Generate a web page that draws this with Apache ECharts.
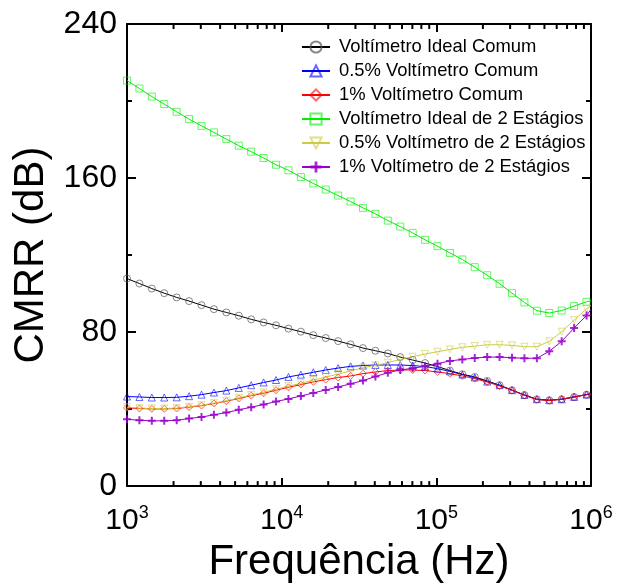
<!DOCTYPE html>
<html>
<head>
<meta charset="utf-8">
<script src="https://cdn.jsdelivr.net/npm/echarts@6/dist/echarts.min.js"></script>
<style>
html,body{margin:0;padding:0;background:#fff;}
#chart{width:626px;height:588px;}
</style>
</head>
<body>
<div id="chart"></div>
<script>
// ---- data ----
const freqHz = [1000,1203,1447,1741,2095,2520,3032,3648,4389,5280,6353,7643,9196,11064,13311,16015,19268,23182,27890,33556,40371,48572,58438,70307,84589,101742,122412,147267,177183,213207,256448,308534,371223,446684,537300,646571,777779,935800,1000000];

const idealCommon = [107.8,105.2,102.6,100.2,98.0,96.1,94.0,91.9,90.2,88.5,86.6,85.0,83.5,81.8,80.2,78.4,76.9,75.3,73.6,71.7,70.3,68.9,67.0,65.5,63.9,62.1,60.0,58.1,56.7,54.6,52.4,49.8,47.3,45.1,44.6,45.1,46.3,47.5,48.0];
const halfPctCommon = [46.5,46.3,46.0,46.0,46.1,46.7,47.5,48.6,49.6,51.0,52.4,53.8,55.1,56.7,57.9,59.1,60.3,61.3,62.2,62.6,62.9,62.9,62.9,62.6,62.1,61.0,59.6,57.9,56.4,54.3,52.4,49.8,47.3,45.1,44.6,45.1,46.3,47.5,48.0];
const onePctCommon = [40.6,40.3,40.1,40.1,40.3,41.0,41.8,42.9,44.1,45.5,47.0,48.2,49.8,51.3,52.7,54.1,55.3,56.4,57.2,58.4,59.3,60.0,60.3,60.3,60.0,59.3,58.4,57.2,55.8,54.1,52.0,49.8,47.1,44.9,44.4,45.1,46.3,47.5,48.0];
const idealTwoStage = [210.6,206.5,202.3,198.4,194.4,190.6,187.1,183.7,180.2,176.8,173.7,170.4,166.9,164.0,160.5,157.2,154.0,150.9,147.8,144.5,141.4,137.9,134.8,131.5,127.9,124.6,121.1,117.7,113.7,109.5,105.1,100.2,95.4,91.1,89.9,91.2,93.5,95.7,96.3];
const halfPctTwoStage = [41.0,40.5,40.3,40.3,40.5,41.2,42.0,43.1,44.3,45.8,47.3,48.7,50.3,51.9,53.4,55.0,56.6,58.2,59.8,61.5,62.7,64.1,65.8,67.2,68.6,69.8,71.0,72.1,72.7,73.4,73.4,73.1,72.4,72.4,75.2,80.2,86.2,92.1,93.8];
const onePctTwoStage = [34.7,34.2,33.9,33.9,34.2,35.1,35.9,37.0,38.2,39.6,41.0,42.4,43.9,45.3,46.8,48.4,49.9,51.5,53.1,54.8,56.9,58.9,60.3,61.2,62.2,63.6,65.0,65.8,66.5,67.0,67.0,66.7,66.4,66.4,70.0,75.2,82.1,88.6,91.8];

const seriesNames = ['Voltímetro Ideal Comum','0.5% Voltímetro Comum','1% Voltímetro Comum','Voltímetro Ideal de 2 Estágios','0.5% Voltímetro de 2 Estágios','1% Voltímetro de 2 Estágios'];

const xTickValues = [1000,10000,100000,1000000];
const xTickExponents = ['3','4','5','6'];
const yTickLabels = ['0','80','160','240'];
const xMinorTicks = [2000,3000,4000,5000,6000,7000,8000,9000,20000,30000,40000,50000,60000,70000,80000,90000,200000,300000,400000,500000,600000,700000,800000,900000];

// ---- chart ----
const FONT = '"Liberation Sans", Arial, Helvetica, sans-serif';
const chart = echarts.init(document.getElementById('chart'), null, {renderer:'canvas'});

function makeSeries(name, values, color, symbol, extra) {
  const last = freqHz.length - 1;
  return Object.assign({
    type: 'line',
    name: name,
    data: freqHz.map((f, i) => i === last ? {value:[f, values[i]], symbol:'none'} : [f, values[i]]),
    symbol: symbol,
    symbolSize: 7,
    showAllSymbol: true,
    lineStyle: {color: color, width: 1},
    itemStyle: {color: 'transparent', borderColor: color, borderWidth: 1, opacity: 0.6},
    emphasis: {disabled: true},
    animation: false,
    z: 3
  }, extra || {});
}

const plus = 'path://M3,0H5V3H8V5H5V8H3V5H0V3H3Z';

const axisLineStyle = {show:true, onZero:false, lineStyle:{color:'#000', width:2}};

const option = {
  backgroundColor: '#fff',
  animation: false,
  grid: {left:127, right:35, top:24, bottom:101, containLabel:false},
  legend: {
    orient: 'vertical',
    left: 301, top: 35,
    padding: 0,
    itemGap: 0,
    itemWidth: 28,
    itemHeight: 14,
    data: seriesNames,
    textStyle: {fontFamily: FONT, fontSize: 18.4, color: '#000', lineHeight: 24, padding:[0,0,0,4]}
  },
  xAxis: [{
    type: 'log', logBase: 10, min: 1000, max: 1000000, splitNumber: 3,
    position: 'bottom',
    axisLine: axisLineStyle,
    axisTick: {show:true, inside:true, length:8, lineStyle:{color:'#000', width:2}},
    minorTick: {show:false},
    splitLine: {show:false},
    axisLabel: {
      margin: 18, showMinLabel:true, showMaxLabel:true,
      formatter: function(v){
        const k = xTickValues.findIndex(t => Math.abs(t - v) / t < 1e-6);
        return k < 0 ? '' : '{b|10}{s|' + xTickExponents[k] + '}';
      },
      rich: {
        b: {fontFamily: FONT, fontSize: 30, lineHeight: 32, color:'#000', verticalAlign:'bottom'},
        s: {fontFamily: FONT, fontSize: 18, lineHeight: 18, color:'#000', verticalAlign:'top'}
      }
    },
    name: 'Frequência (Hz)', nameLocation: 'middle', nameGap: 46,
    nameTextStyle: {fontFamily: FONT, fontSize: 42, color:'#000'}
  }, {
    type: 'log', logBase: 10, min: 1000, max: 1000000, splitNumber: 3,
    position: 'top',
    axisLine: axisLineStyle,
    axisTick: {show:true, inside:true, length:8, lineStyle:{color:'#000', width:2}},
    axisLabel: {show:false},
    splitLine: {show:false}
  }],
  yAxis: [{
    type: 'value', min: 0, max: 240, interval: 80,
    position: 'left',
    axisLine: axisLineStyle,
    axisTick: {show:true, inside:true, length:9, lineStyle:{color:'#000', width:2}},
    minorTick: {show:true, splitNumber:2, length:5, lineStyle:{color:'#000', width:2}},
    splitLine: {show:false},
    minorSplitLine: {show:false},
    axisLabel: {
      margin: 10, fontFamily: FONT, fontSize: 32, color:'#000',
      formatter: function(v){ const s = String(v); return yTickLabels.indexOf(s) >= 0 ? s : ''; }
    },
    name: 'CMRR (dB)', nameLocation: 'middle', nameGap: 68,
    nameTextStyle: {fontFamily: FONT, fontSize: 42, color:'#000'}
  }, {
    type: 'value', min: 0, max: 240, interval: 80,
    position: 'right',
    axisLine: axisLineStyle,
    axisTick: {show:true, inside:true, length:9, lineStyle:{color:'#000', width:2}},
    minorTick: {show:true, splitNumber:2, length:5, lineStyle:{color:'#000', width:2}},
    splitLine: {show:false},
    axisLabel: {show:false}
  }],
  series: [
    makeSeries(seriesNames[0], idealCommon, '#000000', 'circle', {itemStyle:{color:'transparent', borderColor:'#555', borderWidth:1, opacity:0.7}}),
    makeSeries(seriesNames[1], halfPctCommon, '#0000FF', 'triangle'),
    makeSeries(seriesNames[2], onePctCommon, '#FF0000', 'diamond'),
    makeSeries(seriesNames[3], idealTwoStage, '#00EE00', 'rect'),
    makeSeries(seriesNames[4], halfPctTwoStage, '#CCCC44', 'triangle', {symbolRotate:180}),
    makeSeries(seriesNames[5], onePctTwoStage, '#9900CC', plus, {symbolSize:8, itemStyle:{color:'#9900CC', borderWidth:0, opacity:0.85}}),
    {
      type: 'custom',
      name: 'minorTicks',
      silent: true,
      animation: false,
      clip: false,
      z: 5,
      data: xMinorTicks.map(f => [f, 0]),
      encode: {x:0, y:1},
      renderItem: function(params, api){
        const f = api.value(0);
        const b = api.coord([f, 0]);
        const t = api.coord([f, 240]);
        return {type:'group', children:[
          {type:'line', shape:{x1:b[0], y1:b[1], x2:b[0], y2:b[1]-5}, style:{stroke:'#000', lineWidth:2}},
          {type:'line', shape:{x1:t[0], y1:t[1], x2:t[0], y2:t[1]+5}, style:{stroke:'#000', lineWidth:2}}
        ]};
      }
    }
  ]
};
chart.setOption(option);
</script>
</body>
</html>
